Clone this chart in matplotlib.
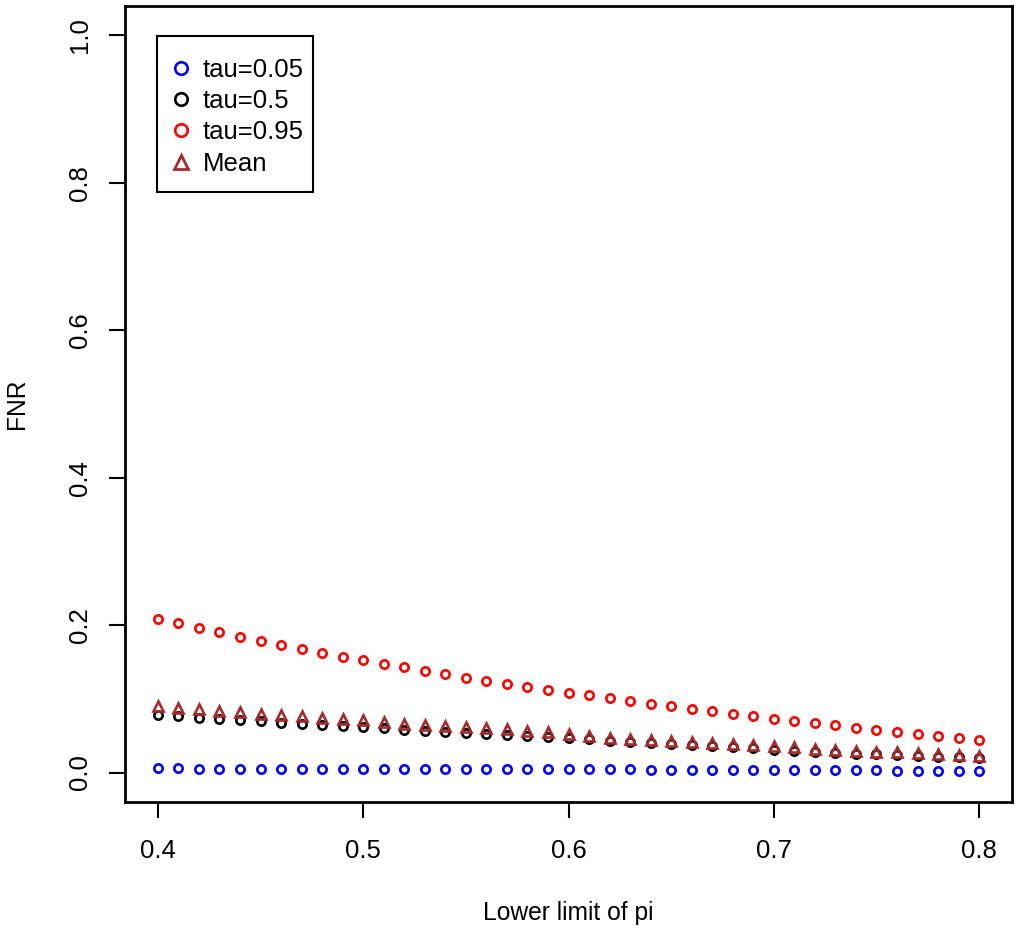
import matplotlib
matplotlib.use("Agg")
import matplotlib.pyplot as plt
from matplotlib.lines import Line2D
from matplotlib.patches import Rectangle
import numpy as np

plt.rcParams['font.family'] = ['Liberation Sans', 'DejaVu Sans']

# lower limit of pi, 0.40 .. 0.80 in steps of 0.01
pi_lower = [round(0.40 + 0.01 * i, 2) for i in range(41)]

fnr_tau05 = [0.0055, 0.0055, 0.0054, 0.0054, 0.0053, 0.0053, 0.0052, 0.0052, 0.0051, 0.0051,
             0.0050, 0.0050, 0.0049, 0.0048, 0.0048, 0.0047, 0.0047, 0.0046, 0.0045, 0.0045,
             0.0044, 0.0043, 0.0042, 0.0041, 0.0040, 0.0039, 0.0038, 0.0037, 0.0036, 0.0035,
             0.0034, 0.0033, 0.0032, 0.0031, 0.0030, 0.0028, 0.0027, 0.0026, 0.0024, 0.0022,
             0.0020]

fnr_tau50 = [0.0774, 0.0765, 0.0742, 0.0724, 0.0707, 0.0693, 0.0675, 0.0657, 0.0643, 0.0625,
             0.0611, 0.0598, 0.0580, 0.0566, 0.0553, 0.0539, 0.0525, 0.0512, 0.0498, 0.0485,
             0.0466, 0.0448, 0.0432, 0.0416, 0.0401, 0.0386, 0.0371, 0.0356, 0.0341, 0.0326,
             0.0311, 0.0297, 0.0283, 0.0270, 0.0257, 0.0245, 0.0234, 0.0224, 0.0215, 0.0207,
             0.0200]

fnr_tau95 = [0.2080, 0.2025, 0.1960, 0.1900, 0.1840, 0.1780, 0.1730, 0.1675, 0.1620, 0.1570,
             0.1520, 0.1470, 0.1427, 0.1380, 0.1336, 0.1286, 0.1245, 0.1205, 0.1160, 0.1123,
             0.1078, 0.1046, 0.1005, 0.0969, 0.0933, 0.0897, 0.0860, 0.0829, 0.0797, 0.0761,
             0.0729, 0.0697, 0.0670, 0.0639, 0.0607, 0.0580, 0.0553, 0.0520, 0.0493, 0.0466,
             0.0444]

fnr_mean = [0.0900, 0.0874, 0.0860, 0.0838, 0.0815, 0.0797, 0.0779, 0.0765, 0.0742, 0.0724,
            0.0710, 0.0688, 0.0665, 0.0647, 0.0630, 0.0616, 0.0602, 0.0584, 0.0566, 0.0548,
            0.0517, 0.0490, 0.0475, 0.0460, 0.0445, 0.0430, 0.0415, 0.0400, 0.0385, 0.0370,
            0.0355, 0.0340, 0.0325, 0.0310, 0.0297, 0.0285, 0.0272, 0.0260, 0.0247, 0.0235,
            0.0222]

BROWN = '#A52A2A'

fig = plt.figure(figsize=(10.24, 9.31), dpi=100)
ax = fig.add_axes([125 / 1024, 1 - 802 / 931, 887 / 1024, 796 / 931])

circ = dict(linestyle='none', marker='o', markersize=6, markerfacecolor='none',
            markeredgewidth=1.9)
ax.plot(pi_lower, fnr_tau05, color='blue', **circ)
ax.plot(pi_lower, fnr_tau50, color='black', **circ)
ax.plot(pi_lower, fnr_tau95, color='red', **circ)
ax.plot(pi_lower, fnr_mean, color=BROWN, linestyle='none', marker='^', markersize=7,
        markerfacecolor='none', markeredgewidth=1.9)

ax.set_xlim(0.384, 0.816)
ax.set_ylim(-0.04, 1.04)
ax.set_xticks([0.4, 0.5, 0.6, 0.7, 0.8])
ax.set_xticklabels(['0.4', '0.5', '0.6', '0.7', '0.8'])
ax.set_yticks([0.0, 0.2, 0.4, 0.6, 0.8, 1.0])
ax.set_yticklabels(['0.0', '0.2', '0.4', '0.6', '0.8', '1.0'], rotation=90, va='center')

for s in ax.spines.values():
    s.set_linewidth(2)
ax.tick_params(axis='both', length=11.5, width=1.5, labelsize=18.5)
ax.tick_params(axis='x', pad=15)
ax.tick_params(axis='y', pad=12)

fig.text(568.5 / 1024, 1 - 920 / 931, 'Lower limit of pi', ha='center', va='baseline',
         fontsize=17.7)
fig.text(17 / 1024, 1 - 404 / 931, 'FNR', ha='center', va='center', rotation=90,
         fontsize=17.7)

# legend box drawn separately so the padding can be uneven, like R's legend()
ax.add_patch(Rectangle((32 / 887, 610 / 796), 156 / 887, 156 / 796,
                       transform=ax.transAxes, facecolor='white', edgecolor='black',
                       linewidth=1.5, zorder=4))

handles = [
    Line2D([], [], color='blue', **dict(circ, markersize=9)),
    Line2D([], [], color='black', **dict(circ, markersize=9)),
    Line2D([], [], color='red', **dict(circ, markersize=9)),
    Line2D([], [], color=BROWN, linestyle='none', marker='^', markersize=10,
           markerfacecolor='none', markeredgewidth=2),
]
leg = ax.legend(handles, ['tau=0.05', 'tau=0.5', 'tau=0.95', 'Mean'],
                loc='upper left', bbox_to_anchor=(43 / 887, 744 / 796), borderaxespad=0,
                fontsize=18.5, frameon=False,
                handlelength=1.0, handletextpad=0.36, labelspacing=0.28,
                borderpad=0)
leg.set_zorder(5)

fig.savefig('out.png', dpi=100)
